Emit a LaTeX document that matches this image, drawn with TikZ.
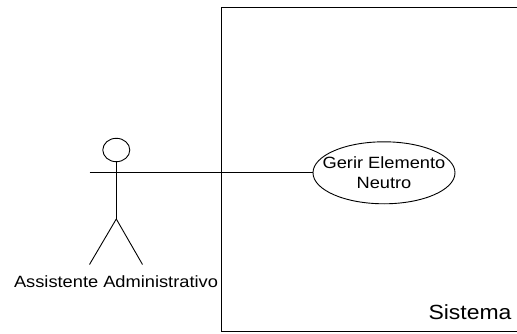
\documentclass[tikz,border=0pt]{standalone}
\usepackage{fontspec}
\setmainfont[FakeStretch=1.12]{Liberation Sans}
\usepackage{tikz}
\usetikzlibrary{shapes,positioning}
\tikzset{umlline/.style={line width=0.9pt},
  umltext/.style={inner sep=0pt,font=\fontsize{16.3pt}{20pt}\selectfont,align=center}}

\begin{document}
\begin{tikzpicture}[x=1pt,y=-1pt]

  \useasboundingbox (0,0) rectangle (517,334);

  \draw [umlline] (517,7) -- (221,7) -- (221,331) -- (517,331);

  \node [draw,ellipse,umlline,minimum width=27pt,minimum height=23.4pt,inner sep=0pt] (head) at (116.3,150) {};
  \coordinate (armleft) at (89.5,172.8);
  \coordinate (armright) at (142,172.8);
  \coordinate (hip) at (116.3,219);
  \coordinate (footleft) at (89.5,264.5);
  \coordinate (footright) at (142.5,264.5);

  \draw [umlline] (head.south) -- (hip);
  \draw [umlline] (footleft) -- (hip) -- (footright);
  \draw [line width=0.6pt] (armleft) -- (armright);

  \node [draw,ellipse,umlline,minimum width=142pt,minimum height=62pt,inner sep=0pt] (usecase) at (384,172.8) {};
  \draw [line width=1.1pt] (armright) -- (usecase.west);

  \node [umltext] (usecasetext) at (384,172.7) {Gerir Elemento\\Neutro};
  \node [umltext] (actortext) at (116,281.5) {Assistente Administrativo};
  \node [umltext,font=\fontsize{20.5pt}{24pt}\selectfont] (systemtext) at (470,312.5) {Sistema};

\end{tikzpicture}
\end{document}
